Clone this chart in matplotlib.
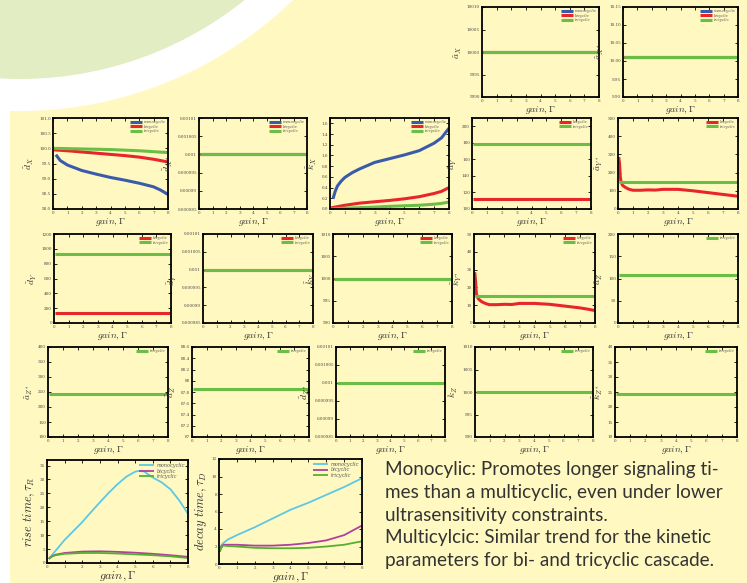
import matplotlib
matplotlib.use("Agg")
import matplotlib.pyplot as plt
from matplotlib.patches import Rectangle, Circle

plt.rcParams["mathtext.fontset"] = "cm"
plt.rcParams["font.family"] = ["DejaVu Serif"]

W, H = 747, 583
YELLOW = "#FFF9C1"
GREENBG = "#E2EDC3"
C_MONO = "#3A5BAA"
C_BI = "#E8262A"
C_TRI = "#6BBE45"
C_CY = "#5BC8E6"
C_MAG = "#B0409E"
C_TRI2 = "#55B030"

# ---------------- data ----------------
gain_flat = [0.05, 8.0]
gain_dx = [0.2, 0.5, 1, 2, 3, 4, 5, 6, 7, 7.5, 8]
dx_mono = [99.79, 99.6, 99.45, 99.27, 99.15, 99.04, 98.95, 98.85, 98.73, 98.62, 98.48]
gain_dx2 = [0.05, 1, 2, 3, 4, 5, 6, 7, 8]
dx_bi = [99.95, 99.92, 99.88, 99.84, 99.8, 99.76, 99.71, 99.64, 99.55]
dx_tri = [100.0, 99.99, 99.98, 99.97, 99.96, 99.94, 99.92, 99.89, 99.86]

gain_kx = [0.2, 0.35, 0.5, 0.75, 1, 1.5, 2, 3, 4, 5, 6, 7, 7.5, 8]
kx_mono = [0.19, 0.33, 0.43, 0.52, 0.59, 0.68, 0.75, 0.87, 0.94, 1.01, 1.09, 1.23, 1.33, 1.51]
gain_kx2 = [0.05, 1, 2, 3, 4, 5, 6, 7, 7.5, 8]
kx_bi = [0.02, 0.07, 0.11, 0.135, 0.16, 0.19, 0.23, 0.29, 0.33, 0.40]
kx_tri = [0.0, 0.015, 0.025, 0.035, 0.05, 0.06, 0.07, 0.09, 0.105, 0.13]

gain_star = [0.05, 0.1, 0.15, 0.2, 0.3, 0.5, 0.75, 1, 1.5, 2, 2.5, 3, 4, 5, 6, 7, 7.5, 8]
ays_bi = [285, 250, 180, 150, 130, 118, 108, 103, 103, 105, 104, 108, 108, 100, 90, 80, 75, 70]
kys_bi = [28.5, 24, 17, 15, 13.5, 12, 11, 10.3, 10.3, 10.5, 10.4, 11, 11, 10.5, 9.5, 8.5, 7.8, 7.0]

ax_val = 10000.0
axs_val = 10.01
dxs_val = 0.001
ay_bi, ay_tri = 112.0, 179.0
ays_tri = 150.0
dy_bi, dy_tri = 140.0, 930.0
dys_val = 0.001
ky_val = 1000.0
kys_tri = 15.0
az_tri = 107.0
azs_tri = 245.0
dz_tri = 87.86
dzs_tri = 0.001
kz_tri = 1000.0
kzs_tri = 24.5

gain_rise = [0.1, 0.3, 0.5, 1, 1.5, 2, 2.5, 3, 3.5, 4, 4.5, 5, 5.2, 5.5, 6, 6.5, 7, 7.5, 8]
rise_mono = [1.5, 3.0, 4.5, 8.3, 11.5, 14.7, 18.3, 21.8, 25.2, 28.3, 31.0, 32.8, 33.1, 32.9, 30.7, 29.0, 26.5, 22.5, 17.7]
gain_rise2 = [0.1, 0.3, 0.5, 1, 2, 3, 4, 5, 6, 7, 8]
rise_bi = [1.5, 2.5, 3.0, 3.6, 4.1, 4.2, 4.0, 3.7, 3.3, 2.8, 2.2]
rise_tri = [1.5, 2.4, 2.8, 3.3, 3.6, 3.6, 3.4, 3.1, 2.8, 2.4, 1.8]

gain_decay = [0.05, 0.1, 0.15, 0.3, 0.5, 1, 2, 3, 4, 5, 6, 7, 8]
decay_mono = [1.4, 1.9, 2.2, 2.5, 2.8, 3.3, 4.2, 5.2, 6.2, 7.0, 7.9, 8.8, 9.8]
decay_bi = [1.4, 1.8, 2.1, 2.2, 2.2, 2.2, 2.1, 2.1, 2.2, 2.4, 2.7, 3.3, 4.4]
decay_tri = [1.4, 1.8, 2.05, 2.1, 2.05, 2.0, 1.85, 1.8, 1.8, 1.85, 2.0, 2.2, 2.6]

xticks = [0, 1, 2, 3, 4, 5, 6, 7, 8]
text_lines = ["Monocylic: Promotes longer signaling ti-",
              "mes than a multicyclic, even under lower",
              "ultrasensitivity constraints.",
              "Multicylcic: Similar trend for the kinetic",
              "parameters for bi- and tricyclic cascade."]

# ---------------- figure ----------------
fig = plt.figure(figsize=(W / 100, H / 100), dpi=100)
fig.patch.set_facecolor("white")
fig.add_artist(Rectangle((10 / W, 0), 1, 1, transform=fig.transFigure,
                         facecolor=YELLOW, edgecolor="none", zorder=-5))
fig.add_artist(Circle((0.20, 8.63), 3.91, transform=fig.dpi_scale_trans,
                      facecolor="white", edgecolor="none", zorder=-4))
fig.add_artist(Circle((0.20, 8.63), 3.59, transform=fig.dpi_scale_trans,
                      facecolor=GREENBG, edgecolor="none", zorder=-3))


def make_ax(x0, y0, x1, y1):
    ax = fig.add_axes([x0 / W, 1 - y1 / H, (x1 - x0) / W, (y1 - y0) / H])
    ax.set_facecolor("none")
    for s in ax.spines.values():
        s.set_linewidth(1.3)
        s.set_color("black")
    ax.set_xlim(0, 8)
    ax.set_xticks(xticks)
    ax.tick_params(direction="in", top=True, right=True, length=2, width=0.6,
                   labelsize=3, pad=1.5, colors="black", labelcolor="#444444")
    return ax


def small(ax, ylim, yticks, ylabel, series, big=False, fmt=None):
    ax.set_ylim(*ylim)
    ax.set_yticks(yticks)
    if fmt:
        ax.set_yticklabels([fmt(v) for v in yticks])
    for x, y, c, lab in series:
        ax.plot(x, y, color=c, lw=2.2 if not big else 1.3, label=lab, solid_capstyle="butt")
    ax.set_ylabel(ylabel, fontsize=7 if not big else 9, labelpad=2, color="#333333")
    ax.set_xlabel(r"$gain, \Gamma$", fontsize=7 if not big else 8.5, labelpad=1 if not big else 0.5,
                  color="#333333")
    sz = 2.8 if not big else 3.6
    leg = ax.legend(loc="upper right", frameon=False,
                    handlelength=3, borderaxespad=0.2, labelspacing=0.1, handletextpad=0.5,
                    prop={"style": "italic", "size": sz, "family": "DejaVu Serif"})
    for t in leg.get_texts():
        t.set_color("#555555")
    return ax


fmt_small = lambda v: ("%g" % v)
labs3 = ["monocyclic", "bicyclic", "tricyclic"]

# top right
a = make_ax(482, 7, 599, 97)
small(a, (9990, 10010), [9990, 9995, 10000, 10005, 10010], r"$\tilde{a}_X$",
      [(gain_flat, [ax_val] * 2, C_MONO, labs3[0]), (gain_flat, [ax_val] * 2, C_BI, labs3[1]),
       (gain_flat, [ax_val] * 2, C_TRI, labs3[2])])
a = make_ax(623, 7, 738, 97)
small(a, (9.9, 10.15), [9.9, 9.95, 10, 10.05, 10.1, 10.15], r"$\tilde{a}_{X^*}$",
      [(gain_flat, [axs_val] * 2, C_MONO, labs3[0]), (gain_flat, [axs_val] * 2, C_BI, labs3[1]),
       (gain_flat, [axs_val] * 2, C_TRI, labs3[2])])

tiny_ticks = [0.000985, 0.00099, 0.000995, 0.001, 0.001005, 0.00101]
tiny_lim = (0.000985, 0.00101)

# row 1
a = make_ax(53, 118, 168, 209)
small(a, (98, 101), [98, 98.5, 99, 99.5, 100, 100.5, 101], r"$\tilde{d}_X$",
      [(gain_dx, dx_mono, C_MONO, labs3[0]), (gain_dx2, dx_bi, C_BI, labs3[1]),
       (gain_dx2, dx_tri, C_TRI, labs3[2])])
a = make_ax(199, 118, 307, 209)
small(a, tiny_lim, tiny_ticks, r"$\tilde{d}_{X^*}$",
      [(gain_flat, [dxs_val] * 2, C_MONO, labs3[0]), (gain_flat, [dxs_val] * 2, C_BI, labs3[1]),
       (gain_flat, [dxs_val] * 2, C_TRI, labs3[2])], fmt=fmt_small)
a = make_ax(330, 118, 449, 209)
small(a, (0, 1.7), [0, 0.2, 0.4, 0.6, 0.8, 1, 1.2, 1.4, 1.6], r"$\tilde{k}_X$",
      [(gain_kx, kx_mono, C_MONO, labs3[0]), (gain_kx2, kx_bi, C_BI, labs3[1]),
       (gain_kx2, kx_tri, C_TRI, labs3[2])])
a = make_ax(472, 118, 591, 209)
small(a, (100, 210), [100, 120, 140, 160, 180, 200], r"$\tilde{a}_Y$",
      [(gain_flat, [ay_bi] * 2, C_BI, labs3[1]), (gain_flat, [ay_tri] * 2, C_TRI, labs3[2])])
a = make_ax(618, 118, 738, 209)
small(a, (0, 500), [0, 100, 200, 300, 400, 500], r"$\tilde{a}_{Y^*}$",
      [(gain_star, ays_bi, C_BI, labs3[1]), (gain_flat, [ays_tri] * 2, C_TRI, labs3[2])])

# row 2
a = make_ax(54, 234, 171, 323)
small(a, (0, 1200), [0, 200, 400, 600, 800, 1000, 1200], r"$\tilde{d}_Y$",
      [(gain_flat, [dy_bi] * 2, C_BI, labs3[1]), (gain_flat, [dy_tri] * 2, C_TRI, labs3[2])])
a = make_ax(203, 234, 313, 323)
small(a, tiny_lim, tiny_ticks, r"$\tilde{d}_{Y^*}$",
      [(gain_flat, [dys_val] * 2, C_BI, labs3[1]), (gain_flat, [dys_val] * 2, C_TRI, labs3[2])],
      fmt=fmt_small)
a = make_ax(333, 234, 452, 323)
small(a, (990, 1010), [990, 995, 1000, 1005, 1010], r"$\tilde{k}_Y$",
      [(gain_flat, [ky_val] * 2, C_BI, labs3[1]), (gain_flat, [ky_val] * 2, C_TRI, labs3[2])])
a = make_ax(474, 234, 595, 323)
small(a, (0, 50), [0, 10, 20, 30, 40, 50], r"$\tilde{k}_{Y^*}$",
      [(gain_star, kys_bi, C_BI, labs3[1]), (gain_flat, [kys_tri] * 2, C_TRI, labs3[2])])
a = make_ax(618, 234, 738, 323)
small(a, (0, 200), [0, 50, 100, 150, 200], r"$\tilde{a}_Z$",
      [(gain_flat, [az_tri] * 2, C_TRI, labs3[2])])

# row 3
a = make_ax(48, 347, 168, 437)
small(a, (100, 400), [100, 150, 200, 250, 300, 350, 400], r"$\tilde{a}_{Z^*}$",
      [(gain_flat, [azs_tri] * 2, C_TRI, labs3[2])])
a = make_ax(192, 347, 309, 437)
small(a, (87, 88.6), [87, 87.2, 87.4, 87.6, 87.8, 88, 88.2, 88.4, 88.6], r"$\tilde{d}_Z$",
      [(gain_flat, [dz_tri] * 2, C_TRI, labs3[2])], fmt=fmt_small)
a = make_ax(336, 347, 445, 437)
small(a, tiny_lim, tiny_ticks, r"$\tilde{d}_{Z^*}$",
      [(gain_flat, [dzs_tri] * 2, C_TRI, labs3[2])], fmt=fmt_small)
a = make_ax(475, 347, 593, 437)
small(a, (990, 1010), [990, 995, 1000, 1005, 1010], r"$\tilde{k}_Z$",
      [(gain_flat, [kz_tri] * 2, C_TRI, labs3[2])])
a = make_ax(615, 347, 737, 437)
small(a, (10, 40), [10, 15, 20, 25, 30, 35, 40], r"$\tilde{k}_{Z^*}$",
      [(gain_flat, [kzs_tri] * 2, C_TRI, labs3[2])])

# bottom
a = make_ax(47, 460, 188, 563)
small(a, (0, 37), [0, 5, 10, 15, 20, 25, 30, 35], r"$rise\ time, \tau_R$",
      [(gain_rise, rise_mono, C_CY, labs3[0]), (gain_rise2, rise_bi, C_MAG, labs3[1]),
       (gain_rise2, rise_tri, C_TRI2, labs3[2])], big=True)
a = make_ax(219, 459, 362, 564)
small(a, (0, 12), [0, 2, 4, 6, 8, 10, 12], r"$decay\ time, \tau_D$",
      [(gain_decay, decay_mono, C_CY, labs3[0]), (gain_decay, decay_bi, C_MAG, labs3[1]),
       (gain_decay, decay_tri, C_TRI2, labs3[2])], big=True)

# text block
for i, line in enumerate(text_lines):
    fig.text(385 / W, 1 - (470 + i * 22.6) / H, line, fontsize=13.6, family="Lato",
             color="#333333", va="center", ha="left")

fig.savefig("out.png", dpi=100)
